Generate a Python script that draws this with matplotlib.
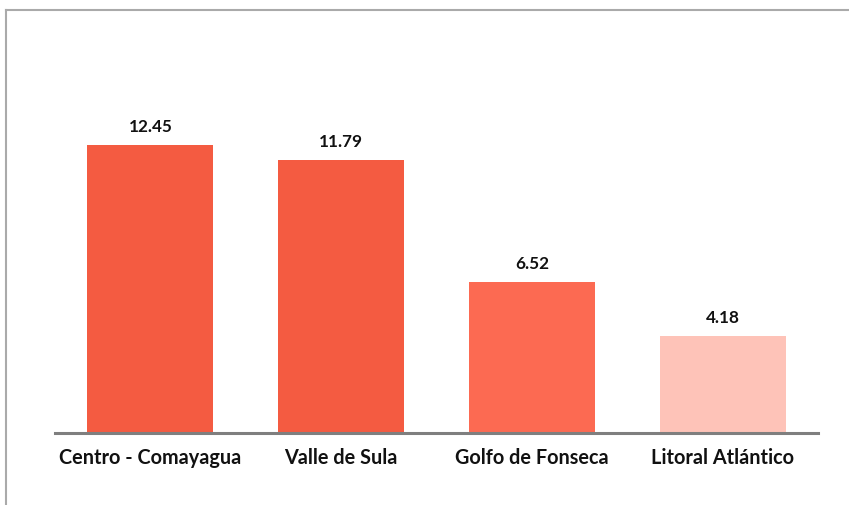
import matplotlib.pyplot as plt
from matplotlib.lines import Line2D

# data
regions = ['Centro - Comayagua', 'Valle de Sula', 'Golfo de Fonseca', 'Litoral Atlántico']
values = [12.45, 11.79, 6.52, 4.18]
colors = ['#F45B41', '#F45B41', '#FC6A52', '#FEC3B8']

plt.rcParams['font.family'] = ['Lato', 'DejaVu Sans']

fig = plt.figure(figsize=(8.49, 5.06), dpi=100)
ax = fig.add_axes([0.0648, 0.1423, 0.8987, 0.6858])

x = range(len(regions))
ax.bar(x, values, width=0.66, color=colors)

for i, v in enumerate(values):
    ax.annotate(f'{v:.2f}', (i, v), xytext=(0, 8), textcoords='offset points',
                ha='center', va='bottom', fontsize=12.3, fontweight='bold', color='#111111')

ax.set_xlim(-0.5, 3.5)
ax.set_ylim(0, 15)
ax.set_xticks(list(x))
ax.set_xticklabels(regions, fontsize=14.3, fontweight='bold', color='#111111')
ax.tick_params(axis='x', length=0, pad=10)
ax.set_yticks([])
for s in ['top', 'right', 'left']:
    ax.spines[s].set_visible(False)
ax.spines['bottom'].set_color('#7f7f7f')
ax.spines['bottom'].set_linewidth(2.2)

# grey frame around the chart area
top = (506 - 11) / 506
fig.add_artist(Line2D([5.5 / 849, 1], [top, top], color='#aaaaaa', lw=1.5))
fig.add_artist(Line2D([5.5 / 849, 5.5 / 849], [0, top], color='#aaaaaa', lw=1.5))

fig.savefig('out.png', dpi=100)
